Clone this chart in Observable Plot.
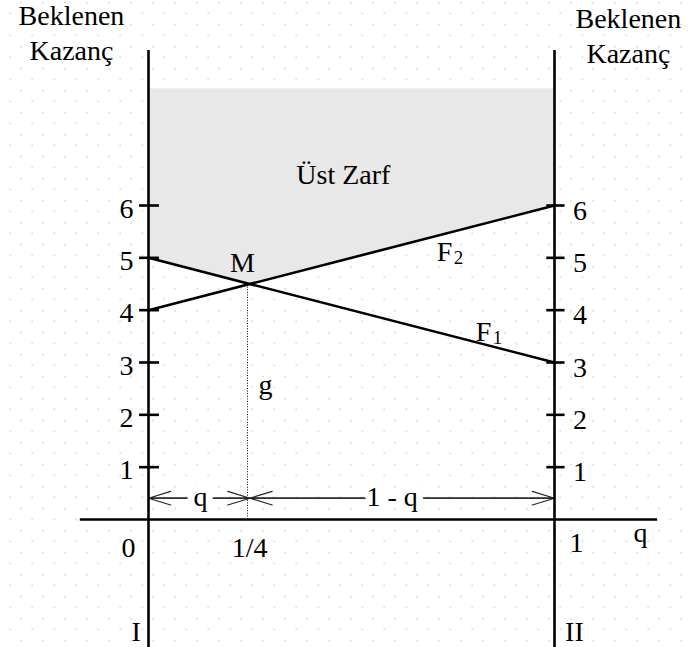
<!DOCTYPE html>
<html><head><meta charset="utf-8">
<script src="https://cdn.jsdelivr.net/npm/d3@7"></script>
<script src="https://cdn.jsdelivr.net/npm/@observablehq/plot@0.6"></script>
<style>
html,body{margin:0;padding:0;background:#fff;}
body{width:688px;height:647px;overflow:hidden;
background-image: radial-gradient(circle, #e2e2e2 0 1.1px, transparent 1.5px), radial-gradient(circle, #e2e2e2 0 1.1px, transparent 1.5px);
background-size: 22px 22px, 22px 22px;
background-position: 10px 13.7px, -0.7px 2.3px;}
#chart svg{display:block;background:transparent;}
</style></head><body><div id="chart"></div>
<script>
// ---- data ----
const yTicks = [1, 2, 3, 4, 5, 6];
const qEnds = [0, 1];
const f1Values = [5, 3];
const f2Values = [4, 6];
const lineNames = ["F", "F"];
const lineSubs = ["1", "2"];
const mixQ = 0.25;
const mLabel = "M";
const gLabel = "g";
const envelopeLabel = "Üst Zarf";
const envelopeTop = 8.23;
const headerLabel = "Beklenen\nKazanç";
const xTickLabels = ["0", "1/4", "1"];
const playerLabels = ["I", "II"];
const spanLabels = ["q", "1 - q"];
const axisLabel = "q";

// ---- derived ----
const lin = (vals) => (q) => vals[0] + (vals[1] - vals[0]) * q;
const f1 = lin(f1Values), f2 = lin(f2Values);
const F1 = qEnds.map((q, i) => ({q, v: f1Values[i]}));
const F2 = qEnds.map((q, i) => ({q, v: f2Values[i]}));
const envelope = [0, mixQ, 1].map(q => ({q, lo: Math.max(f1(q), f2(q))}));
const spanY = 0.407;
const spans = [
  {a: 0, b: mixQ, label: spanLabels[0], lx: 0.128, insA: 2, insB: 3.5},
  {a: mixQ, b: 1, label: spanLabels[1], lx: 0.600, insA: 5, insB: 4}
];
const font = "'Liberation Serif', 'Times New Roman', serif";
const FS = 28;
const ink = "#000";
const SW = 2.6;

const xTickPos = [{x: -0.049, y: -0.72}, {x: 0.249, y: -0.71}, {x: 1.054, y: -0.63}];
const fLabelPos = [{x: 0.806, y: 3.42}, {x: 0.710, y: 4.936}];

const plot = Plot.plot({
  width: 688, height: 647,
  margin: 0,
  x: {domain: [0, 1], range: [148, 554], axis: null},
  y: {domain: [0, 6], range: [519, 205], axis: null},
  style: {fontFamily: font, fontSize: FS + "px", background: "transparent", overflow: "visible"},
  marks: [
    Plot.areaY(envelope, {x: "q", y1: "lo", y2: envelopeTop, fill: "#e8e8e8"}),
    // dotted drop line
    Plot.ruleX([mixQ], {x: d => d, y1: 0, y2: f1(mixQ), dx: -2.5, stroke: ink, strokeWidth: 1, strokeDasharray: "1,1.6"}),
    // span arrows (double headed) with haloed labels
    Plot.arrow(spans, {x1: "a", x2: "b", y1: spanY, y2: spanY, stroke: "#222", strokeWidth: 1.2, headAngle: 34, headLength: 29, insetEnd: d => d.insB}),
    Plot.arrow(spans, {x1: "b", x2: "a", y1: spanY, y2: spanY, stroke: "#222", strokeWidth: 1.2, headAngle: 34, headLength: 29, insetEnd: d => d.insA}),
    Plot.text(spans, {x: "lx", y: 0.2675, text: "label", fontSize: FS, fill: ink, stroke: "white", strokeWidth: 14, strokeLinejoin: "round", lineAnchor: "bottom"}),
    // axes
    Plot.ruleX(qEnds, {x: d => d, y1: -2.7, y2: 8.96, stroke: ink, strokeWidth: SW}),
    Plot.ruleY([0], {y: d => d, x1: -0.168, x2: 1.254, stroke: ink, strokeWidth: SW}),
    Plot.ruleY(yTicks, {y: d => d, x1: -0.022, x2: 0.027, stroke: ink, strokeWidth: SW}),
    Plot.ruleY(yTicks, {y: d => d, x1: 0.981, x2: 1.026, stroke: ink, strokeWidth: SW}),
    // payoff lines
    Plot.line(F1, {x: "q", y: "v", stroke: ink, strokeWidth: SW}),
    Plot.line(F2, {x: "q", y: "v", stroke: ink, strokeWidth: SW}),
    // tick labels
    Plot.text(yTicks, {x: 0, y: d => d, text: d => String(d), dx: -15, dy: 12, textAnchor: "end", lineAnchor: "bottom", fontSize: FS, fill: ink}),
    Plot.text(yTicks, {x: 1, y: d => d, text: d => String(d), dx: 18.5, dy: 14, textAnchor: "start", lineAnchor: "bottom", fontSize: FS, fill: ink}),
    Plot.text(xTickLabels, {x: (d, i) => xTickPos[i].x, y: (d, i) => xTickPos[i].y, text: d => d, lineAnchor: "bottom", fontSize: FS, fill: ink}),
    Plot.text([axisLabel], {x: 1.212, y: -0.434, text: d => d, lineAnchor: "bottom", fontSize: FS, fill: ink}),
    Plot.text(playerLabels, {x: (d, i) => [-0.0305, 1.049][i], y: -2.33, text: d => d, lineAnchor: "bottom", fontSize: FS, fill: ink}),
    // headers
    Plot.text([headerLabel, headerLabel], {x: (d, i) => [-0.1897, 1.182][i], y: (d, i) => [8.771, 8.714][i], text: d => d, lineAnchor: "bottom", lineHeight: 1.25, fontSize: FS, fill: ink}),
    // annotations
    Plot.text([envelopeLabel], {x: 0.48, y: 6.42, text: d => d, lineAnchor: "bottom", fontSize: FS, fill: ink}),
    Plot.text([mLabel], {x: 0.2315, y: 4.726, text: d => d, lineAnchor: "bottom", fontSize: FS, fill: ink}),
    Plot.text([gLabel], {x: 0.271, y: 2.40, text: d => d, textAnchor: "start", lineAnchor: "bottom", fontSize: FS, fill: ink}),
    Plot.text(lineNames, {x: (d, i) => fLabelPos[i].x, y: (d, i) => fLabelPos[i].y, text: d => d, textAnchor: "start", lineAnchor: "bottom", fontSize: FS, fill: ink}),
    Plot.text(lineSubs, {x: (d, i) => fLabelPos[i].x, y: (d, i) => fLabelPos[i].y, text: d => d, dx: 17, dy: 3, textAnchor: "start", lineAnchor: "bottom", fontSize: 19, fill: ink})
  ]
});
document.getElementById("chart").appendChild(plot);
</script></body></html>
